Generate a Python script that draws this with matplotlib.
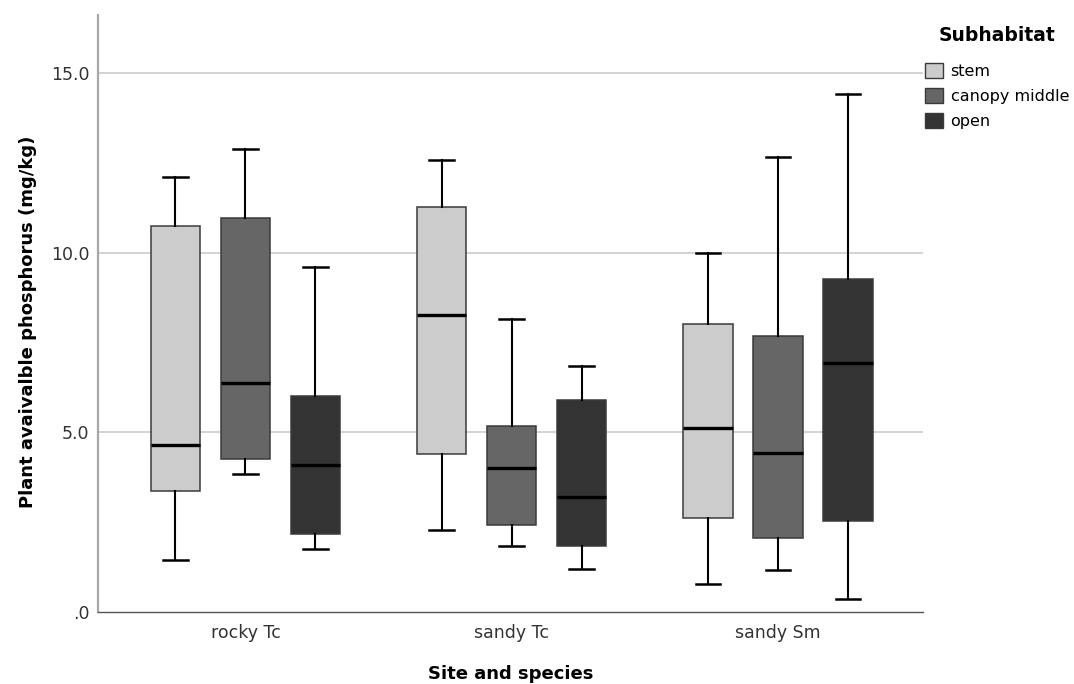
import matplotlib
matplotlib.use("Agg")
import matplotlib.pyplot as plt
from matplotlib.patches import Patch

# ---- data ----
sites = ["rocky Tc", "sandy Tc", "sandy Sm"]
subhabitats = ["stem", "canopy middle", "open"]
colors = ["#cccccc", "#666666", "#333333"]

# per subhabitat, values for the three sites
whislo = {
    "stem":          [1.46, 2.28, 0.79],
    "canopy middle": [3.83, 1.84, 1.16],
    "open":          [1.74, 1.19, 0.36],
}
q1 = {
    "stem":          [3.36, 4.41, 2.62],
    "canopy middle": [4.27, 2.43, 2.05],
    "open":          [2.18, 1.84, 2.53],
}
med = {
    "stem":          [4.64, 8.28, 5.11],
    "canopy middle": [6.37, 4.01, 4.43],
    "open":          [4.10, 3.21, 6.93],
}
q3 = {
    "stem":          [10.75, 11.28, 8.02],
    "canopy middle": [10.98, 5.18, 7.68],
    "open":          [6.02, 5.90, 9.26],
}
whishi = {
    "stem":          [12.11, 12.58, 9.99],
    "canopy middle": [12.89, 8.15, 12.66],
    "open":          [9.60, 6.84, 14.43],
}

yticks = [0, 5, 10, 15]
yticklabels = [".0", "5.0", "10.0", "15.0"]

# ---- figure ----
W, H = 1074, 684
fig = plt.figure(figsize=(W / 100, H / 100), dpi=100)
ax_l, ax_r, ax_b, ax_t = 98, 923, 612, 15
ax = fig.add_axes([ax_l / W, 1 - ax_b / H, (ax_r - ax_l) / W, (ax_b - ax_t) / H])

offsets = [-0.263, 0.0, 0.263]
box_w = 0.186
for j, sub in enumerate(subhabitats):
    stats = []
    for i in range(len(sites)):
        stats.append(dict(med=med[sub][i], q1=q1[sub][i], q3=q3[sub][i],
                          whislo=whislo[sub][i], whishi=whishi[sub][i], fliers=[]))
    pos = [i + offsets[j] for i in range(len(sites))]
    ax.bxp(stats, positions=pos, widths=box_w, patch_artist=True,
           showfliers=False, manage_ticks=False,
           boxprops=dict(facecolor=colors[j], edgecolor="#3a3a3a", linewidth=1.1),
           medianprops=dict(color="black", linewidth=2.4, solid_capstyle="butt"),
           whiskerprops=dict(color="black", linewidth=1.5),
           capprops=dict(color="black", linewidth=1.8),
           capwidths=box_w * 0.5, zorder=3)

ax.set_xlim(-0.554, 2.545)
ax.set_ylim(0, 16.62)
ax.set_xticks(range(len(sites)))
ax.set_xticklabels(sites)
ax.set_yticks(yticks)
ax.set_yticklabels(yticklabels)
ax.tick_params(axis="both", length=0, labelsize=12.5, labelcolor="#333333")
ax.tick_params(axis="x", pad=9)
ax.tick_params(axis="y", pad=6)

for y in yticks[1:]:
    ax.axhline(y, color="#c8c8c8", linewidth=1.1, zorder=1)

for s in ["top", "right"]:
    ax.spines[s].set_visible(False)
ax.spines["left"].set_color("#a8a8a8")
ax.spines["left"].set_linewidth(1.6)
ax.spines["bottom"].set_color("#555555")
ax.spines["bottom"].set_linewidth(1.0)

ax.set_xlabel("Site and species", fontsize=13, fontweight="bold", labelpad=16)
ax.set_ylabel("Plant avaivalble phosphorus (mg/kg)", fontsize=13, fontweight="bold")
ax.yaxis.set_label_coords(-0.074, 0.486)

handles = [Patch(facecolor=c, edgecolor="#3a3a3a", linewidth=1.0) for c in colors]
leg = fig.legend(handles, subhabitats, loc="upper left",
                 bbox_to_anchor=(925 / W, 1 - 26 / H), frameon=False,
                 title="Subhabitat", fontsize=11.5,
                 title_fontproperties=dict(weight="bold", size=13.5),
                 handlelength=1.1, handleheight=1.1, handletextpad=0.5,
                 labelspacing=0.55, borderpad=0, borderaxespad=0)
leg._legend_box.sep = 13

fig.savefig("out.png", dpi=100)
